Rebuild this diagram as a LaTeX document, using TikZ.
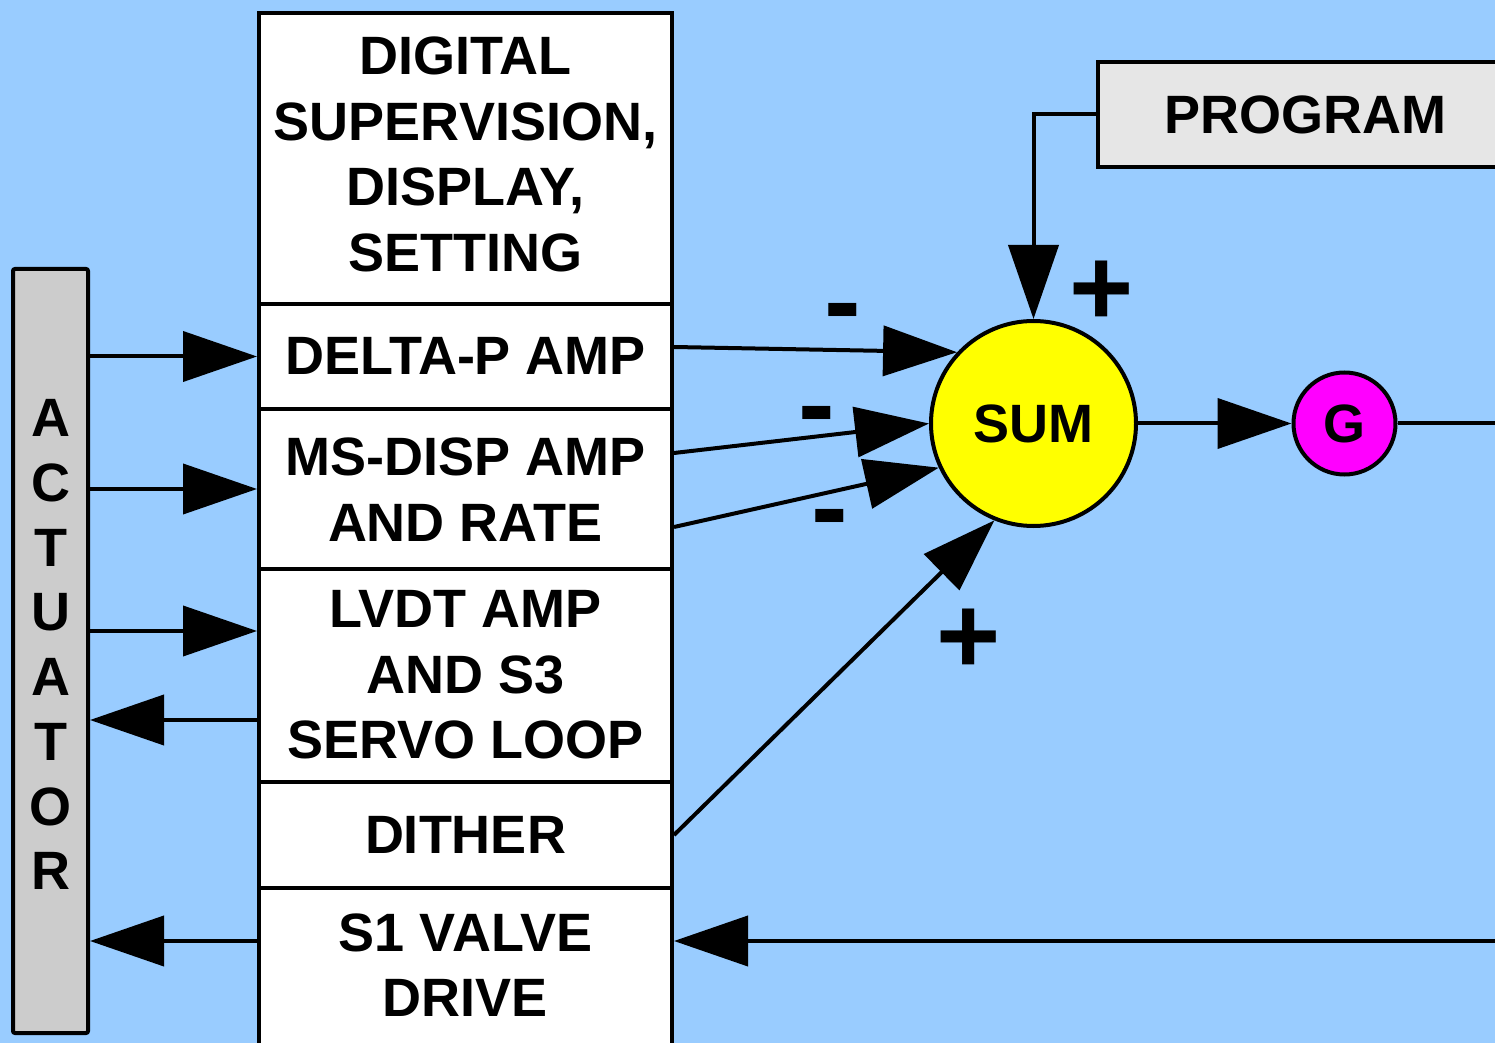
\documentclass[tikz,border=0pt]{standalone}
\usepackage{fontspec}
\setmainfont{Liberation Sans}
\usetikzlibrary{arrows.meta}
\definecolor{bg}{HTML}{99CCFF}
\definecolor{actgray}{HTML}{CCCCCC}
\definecolor{proggray}{HTML}{E6E6E6}
\definecolor{sumyellow}{HTML}{FFFF00}
\definecolor{gmagenta}{HTML}{FF00FF}
\tikzset{
  lbl/.style={font=\bfseries\fontsize{27}{32.75}\selectfont, text height=19.3pt},
  blk/.style={lbl, draw, line width=2pt, fill=white, inner sep=0pt,
    minimum width=206.5pt, align=center},
  conn/.style={line width=2pt},
  tip/.style={-{Triangle[length=37pt,width=25pt]}},
  sign/.style={font=\bfseries\fontsize{55}{55}\selectfont, inner sep=0pt, anchor=base},
}
\begin{document}
\begin{tikzpicture}[x=0.5pt,y=-0.5pt]
\path[use as bounding box, fill=bg] (0,0) rectangle (1495,1043);

% actuator
\node[draw, line width=2pt, fill=actgray, rounded corners=1pt, inner sep=0pt,
  minimum width=37.5pt, minimum height=382pt, align=center,
  font=\bfseries\fontsize{27}{32.35}\selectfont, text height=245.75pt, text depth=7pt]
  (act) at (50.5,651) {A\\C\\T\\U\\A\\T\\O\\R};

% stack of blocks
\node[blk, minimum height=145.5pt, text height=117.55pt, text depth=5pt] (dig) at (465.5,158.5)
  {DIGITAL\\SUPERVISION,\\DISPLAY,\\SETTING};
\node[blk, minimum height=52.5pt, text depth=1.5pt] (dp) at (465.5,356.5) {DELTA-P AMP};
\node[blk, minimum height=80pt, text height=52.05pt, text depth=0pt] (ms) at (465.5,489) {MS-DISP AMP\\AND RATE};
\node[blk, minimum height=106.5pt, text height=84.8pt, text depth=1.5pt] (lv) at (465.5,675.5) {LVDT AMP\\AND S3\\SERVO LOOP};
\node[blk, minimum height=53pt, text depth=0.5pt] (di) at (465.5,835) {DITHER};
\node[blk, minimum height=78.5pt, text height=52.05pt, text depth=2pt] (s1) at (465.5,966.5) {S1 VALVE\\DRIVE};

% program
\node[lbl, draw, line width=2pt, fill=proggray, inner sep=0pt, text depth=0pt,
  minimum width=207.5pt, minimum height=52.5pt] (prog) at (1305.5,114.5) {PROGRAM};

% sum and gain
\node[lbl, circle, draw, line width=2pt, fill=sumyellow, inner sep=0pt, text depth=0pt,
  minimum size=102.5pt] (sum) at (1033.5,423.5) {SUM};
\node[lbl, circle, draw, line width=2pt, fill=gmagenta, inner sep=0pt, text depth=0pt,
  minimum size=51pt] (g) at (1344.5,423.5) {G};

% actuator connections
\draw[conn,tip] (act.east |- dp.west) -- (dp.west);
\draw[conn,tip] (act.east |- ms.west) -- (ms.west);
\coordinate (lvin) at ([yshift=22.25pt]lv.west);
\coordinate (lvout) at ([yshift=-22.25pt]lv.west);
\coordinate (s1out) at ([yshift=12.75pt]s1.west);
\draw[conn,tip] (act.east |- lvin) -- (lvin);
\draw[conn,tip] (lvout) -- (act.east |- lvout);
\draw[conn,tip] (s1out) -- (act.east |- s1out);

% inputs to sum
\draw[conn,tip] ([yshift=4.75pt]dp.east) -- (sum.137);
\draw[conn,tip] ([yshift=18pt]ms.east) -- (sum.west);
\draw[conn,tip] ([yshift=-19pt]ms.east) -- (sum.205);
\draw[conn,tip] (di.east) -- (sum.248);
\draw[conn,tip] (prog.west) -- (sum.north |- prog.west) -- (sum.north);

% output
\draw[conn,tip] (sum.east) -- (g.west);
\coordinate (gout) at (1500,423.5);
\draw[conn] (g.east) -- (gout);
\coordinate (fb) at (1500,941);
\draw[conn,tip] (fb) -- (s1.east |- fb);

% signs
\node[sign] (p1) at (1102,326) {+};
\node[sign] (p2) at (969,673) {+};
\node[sign] (m1) at (843,339) {-};
\node[sign] (m2) at (817,441) {-};
\node[sign] (m3) at (830,544) {-};
\end{tikzpicture}
\end{document}
